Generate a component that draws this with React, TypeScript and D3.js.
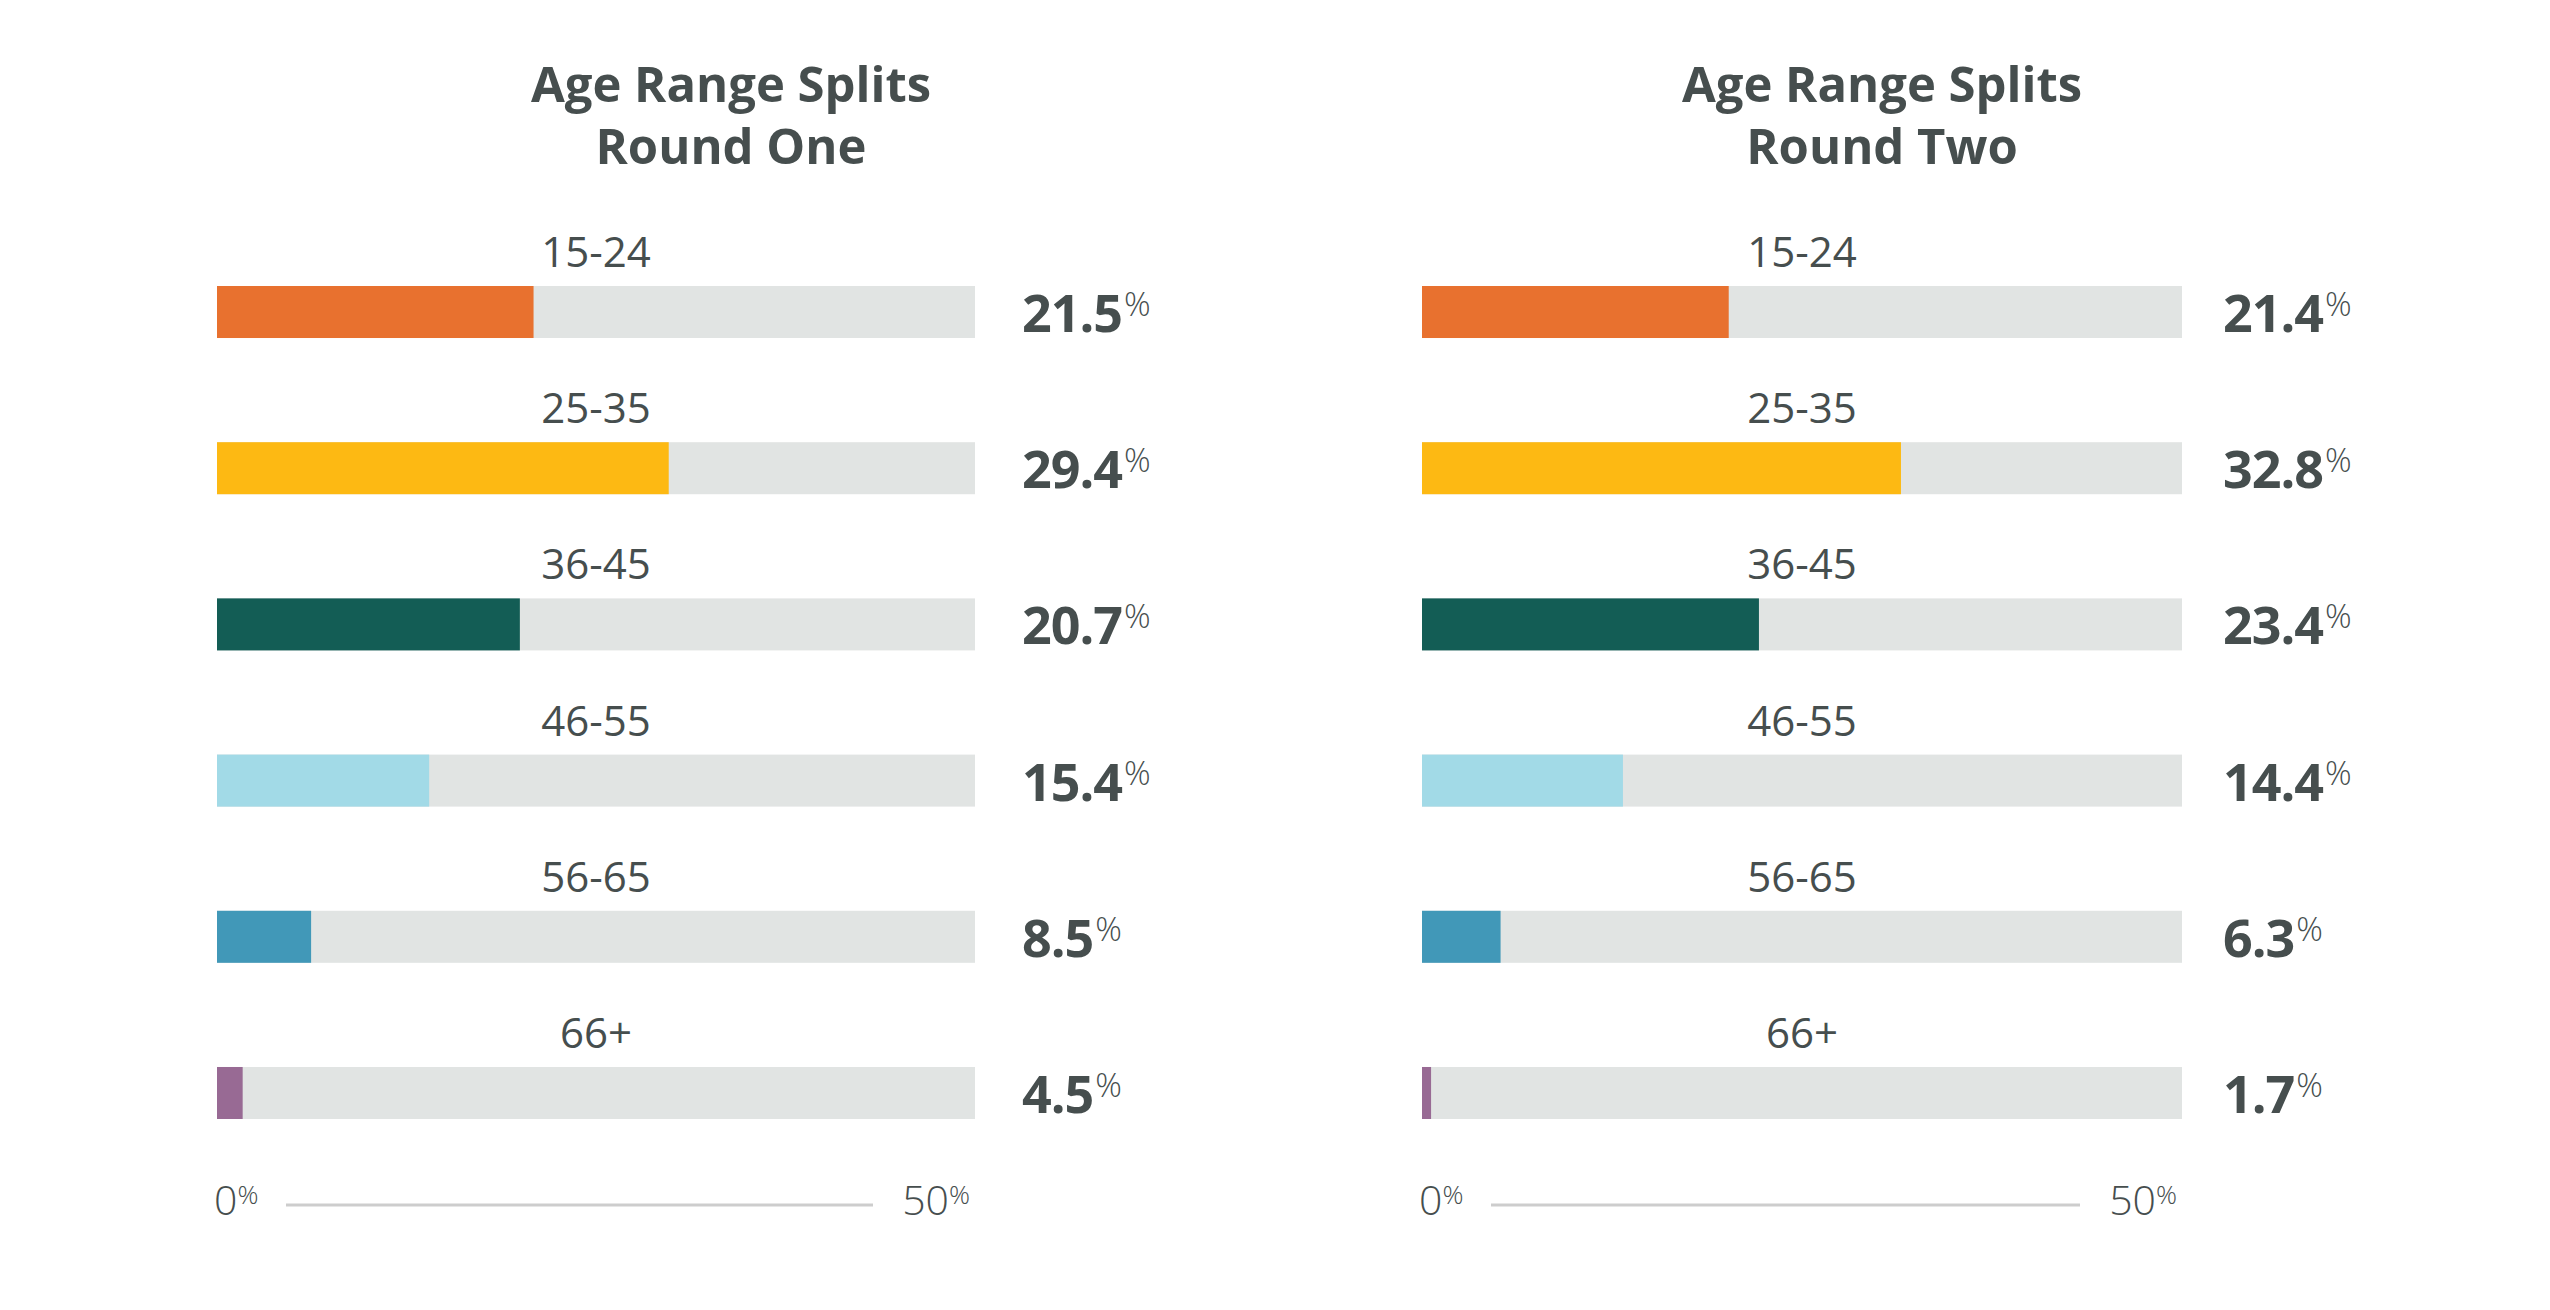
import React, { useEffect, useRef } from 'react';
import * as d3 from 'd3';

// age buckets shared by both rounds
const ageGroups = ['15-24', '25-35', '36-45', '46-55', '56-65', '66+'];
const roundOneValues = [21.5, 29.4, 20.7, 15.4, 8.5, 4.5];
const roundTwoValues = [21.4, 32.8, 23.4, 14.4, 6.3, 1.7];
const barColors = ['#E8712F', '#FDB913', '#135D55', '#A2DAE7', '#4198B8', '#986A94'];
const titleLine1 = ['Age Range Splits', 'Age Range Splits'];
const titleLine2 = ['Round One', 'Round Two'];
const axisLabels = ['0', '50'];

const FONT = '"Open Sans", "Noto Sans", sans-serif';
const TEXT = '#464E4E';

export default function App() {
  const ref = useRef<SVGSVGElement>(null);

  useEffect(() => {
    const svg = d3.select(ref.current);
    svg.selectAll('*').remove();

    const width = 2550;
    const height = 1310;
    svg.attr('width', width).attr('height', height);

    const y = d3
      .scaleBand<string>()
      .domain(ageGroups)
      .range([286, 1119])
      .paddingInner(0.667)
      .paddingOuter(0);

    // the original bars are not drawn on a strict 0-50 ruler, so each panel has its own fitted domain
    const panels = [
      { values: roundOneValues, left: 217, right: 975, domain: [3, 47.3], titleX: 731, valueGap: 47 },
      { values: roundTwoValues, left: 1422, right: 2182, domain: [1.1, 51.4], titleX: 1882, valueGap: 41 },
    ];

    panels.forEach((p, pi) => {
      const x = d3.scaleLinear().domain(p.domain).range([p.left, p.right]).clamp(true);
      const g = svg.append('g');

      // title
      g.append('text')
        .attr('x', p.titleX)
        .attr('y', 102)
        .attr('text-anchor', 'middle')
        .attr('font-family', FONT)
        .attr('font-weight', 700)
        .attr('font-size', 49)
        .attr('fill', TEXT)
        .text(titleLine1[pi]);
      g.append('text')
        .attr('x', p.titleX)
        .attr('y', 164)
        .attr('text-anchor', 'middle')
        .attr('font-family', FONT)
        .attr('font-weight', 700)
        .attr('font-size', 49)
        .attr('fill', TEXT)
        .text(titleLine2[pi]);

      const rows = g
        .selectAll('g.row')
        .data(ageGroups)
        .join('g')
        .attr('class', 'row');

      // background track
      rows
        .append('rect')
        .attr('x', p.left)
        .attr('y', (d) => y(d)!)
        .attr('width', p.right - p.left)
        .attr('height', y.bandwidth())
        .attr('fill', '#E1E4E3');

      // value bar
      rows
        .append('rect')
        .attr('x', p.left)
        .attr('y', (d) => y(d)!)
        .attr('width', (d, i) => Math.max(0, x(p.values[i]) - p.left))
        .attr('height', y.bandwidth())
        .attr('fill', (d, i) => barColors[i]);

      // category label above bar
      rows
        .append('text')
        .attr('x', (p.left + p.right) / 2)
        .attr('y', (d) => y(d)! - 19)
        .attr('text-anchor', 'middle')
        .attr('font-family', FONT)
        .attr('font-size', 42)
        .attr('fill', TEXT)
        .text((d) => d);

      // value label
      const val = rows
        .append('text')
        .attr('x', p.right + p.valueGap)
        .attr('y', (d) => y(d)! + y.bandwidth() / 2 + 20)
        .attr('font-family', FONT)
        .attr('fill', TEXT);
      val
        .append('tspan')
        .attr('font-weight', 700)
        .attr('font-size', 52)
        .attr('letter-spacing', -1)
        .text((d, i) => p.values[i].toFixed(1));
      val
        .append('tspan')
        .attr('font-weight', 300)
        .attr('font-size', 33)
        .attr('dx', 2)
        .attr('dy', -16)
        .text('%');

      // mini axis
      const axisY = 1205;
      g.append('line')
        .attr('x1', p.left + 69)
        .attr('x2', p.right - 102)
        .attr('y1', axisY)
        .attr('y2', axisY)
        .attr('stroke', '#CDCDCD')
        .attr('stroke-width', 3);

      const a0 = g
        .append('text')
        .attr('x', p.left - 3)
        .attr('y', 1215)
        .attr('font-family', FONT)
        .attr('font-weight', 300)
        .attr('font-size', 41)
        .attr('fill', TEXT);
      a0.append('tspan').text(axisLabels[0]);
      a0.append('tspan').attr('font-size', 26).attr('dy', -11).text('%');

      const a1 = g
        .append('text')
        .attr('x', p.right - 5)
        .attr('y', 1215)
        .attr('text-anchor', 'end')
        .attr('font-family', FONT)
        .attr('font-weight', 300)
        .attr('font-size', 41)
        .attr('fill', TEXT);
      a1.append('tspan').text(axisLabels[1]);
      a1.append('tspan').attr('font-size', 26).attr('dy', -11).text('%');
    });
  }, []);

  return (
    <svg
      ref={ref}
      style={{ position: 'absolute', left: 0, top: 0, background: '#fff', display: 'block' }}
    />
  );
}
